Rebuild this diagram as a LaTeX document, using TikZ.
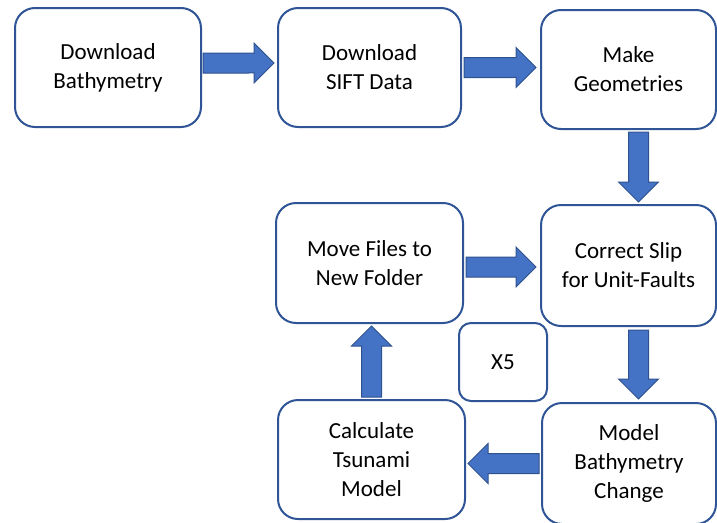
\documentclass[tikz,border=0pt]{standalone}
\usepackage{fontspec}
\setmainfont{Carlito}
\usepackage{tikz}
\usetikzlibrary{calc, positioning}

\definecolor{boxline}{HTML}{2F5597}
\definecolor{arrowfill}{HTML}{4472C4}
\definecolor{arrowline}{HTML}{2F528F}

\tikzset{
    procbox/.style={draw=boxline, line width=2pt, rounded corners=20pt, fill=white,
        align=center, inner sep=0pt, font=\fontsize{23}{29}\selectfont},
    blockarrow/.style={draw=arrowline, fill=arrowfill, line width=1pt,
        to path={
            ($(\tikztostart)!10pt!90:(\tikztotarget)$)
            -- ($(\tikztotarget)!22.36pt!-26.565:(\tikztostart)$)
            -- ($(\tikztotarget)!28.28pt!-45:(\tikztostart)$)
            -- (\tikztotarget)
            -- ($(\tikztotarget)!28.28pt!45:(\tikztostart)$)
            -- ($(\tikztotarget)!22.36pt!26.565:(\tikztostart)$)
            -- ($(\tikztostart)!10pt!-90:(\tikztotarget)$) -- cycle}},
}

\begin{document}
\begin{tikzpicture}[x=1pt, y=-1pt]
        % Fix the page size
        \useasboundingbox (0,0) rectangle (717,522);

        % Define dimensions
        \def\h{119pt} % height of a block

        % Top row
        \node[procbox, minimum width=186pt, minimum height=\h] (bathy) at (108,67.5) {Download\\Bathymetry};
        \node[procbox, minimum width=183pt, minimum height=\h] (sift) at (369.5,67.5) {Download\\SIFT Data};
        \node[procbox, minimum width=175pt, minimum height=\h] (geom) at (628.5,69.5) {Make\\Geometries};

        % Loop part
        \node[procbox, minimum width=175pt, minimum height=121pt] (slip) at (628.5,265.5) {Correct Slip\\for Unit-Faults};
        \node[procbox, minimum width=187pt, minimum height=120pt] (move) at (369.5,263) {Move Files to\\New Folder};
        \node[procbox, minimum width=88pt, minimum height=78pt, rounded corners=12pt] (times) at (503,362) {X5};
        \node[procbox, minimum width=187pt, minimum height=\h] (tsunami) at (371.5,459.5) {Calculate\\Tsunami\\Model};
        \node[procbox, minimum width=174pt, minimum height=121pt] (change) at (629,463.5) {Model\\Bathymetry\\Change};

        % Draw the block arrows
        \draw[blockarrow] ([xshift=1pt,yshift=4.5pt]bathy.east) to ([xshift=-3pt,yshift=4.5pt]sift.west);
        \draw[blockarrow] ([xshift=2pt]sift.east) to ([xshift=-4pt,yshift=2pt]geom.west);
        \draw[blockarrow] ([xshift=10pt,yshift=-2pt]geom.south) to ([xshift=10pt,yshift=2pt]slip.north);
        \draw[blockarrow] ([xshift=2pt,yshift=-4pt]move.east) to ([xshift=-4pt,yshift=-1.5pt]slip.west);
        \draw[blockarrow] ([xshift=10pt,yshift=-3pt]slip.south) to ([xshift=9.5pt,yshift=3pt]change.north);
        \draw[blockarrow] ([xshift=-2pt]change.west) to ([xshift=2pt,yshift=-4pt]tsunami.east);
        \draw[blockarrow] ([yshift=2pt]tsunami.north) to ([xshift=2pt,yshift=-2pt]move.south);
    \end{tikzpicture}
\end{document}
